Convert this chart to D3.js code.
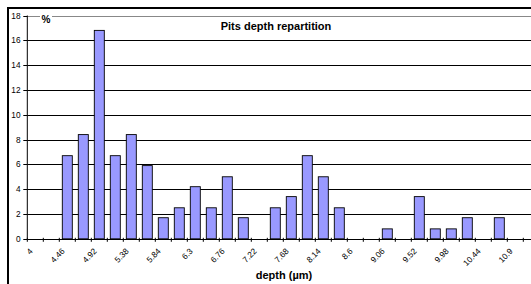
<!DOCTYPE html>
<html>
<head>
<meta charset="utf-8">
<script src="https://cdn.jsdelivr.net/npm/d3@7"></script>
<style>
  body { margin: 0; background: #fff; }
  svg { display: block; font-family: "Liberation Sans", Arial, sans-serif; }
</style>
</head>
<body>
<svg width="531" height="284"></svg>
<script>
let svg = d3.select("svg"),
    width = +svg.attr("width"),
    height = +svg.attr("height");

// depth classes (µm), one bar per class
let depths = [4, 4.23, 4.46, 4.69, 4.92, 5.15, 5.38, 5.61, 5.84, 6.07, 6.3, 6.53, 6.76, 6.99, 7.22, 7.45,
              7.68, 7.91, 8.14, 8.37, 8.6, 8.83, 9.06, 9.29, 9.52, 9.75, 9.98, 10.21, 10.44, 10.67, 10.9, 11.13];
// share of pits (%)
let percents = [0, 0, 6.7, 8.4, 16.8, 6.7, 8.4, 5.9, 1.7, 2.5, 4.2, 2.5, 5.0, 1.7, 0, 2.5,
                3.4, 6.7, 5.0, 2.5, 0, 0, 0.8, 0, 3.4, 0.8, 0.8, 1.7, 0, 1.7, 0, 0];
let yTicks = [0, 2, 4, 6, 8, 10, 12, 14, 16, 18];

let data = depths.map((d, i) => ({ depth: d, pct: percents[i] }));

let plotLeft = 27.3, plotTop = 15.5, plotBottom = 238.8, plotRight = 539.3;

let x = d3.scaleBand()
    .domain(depths)
    .range([plotLeft, plotRight])
    .paddingInner(0.375)
    .paddingOuter(0.1875);

let y = d3.scaleLinear()
    .domain([0, 18])
    .range([plotBottom, plotTop]);

// chart frame, cropped on the right and bottom: only top and left edges show
svg.append("line")
    .attr("x1", 8).attr("x2", 8)
    .attr("y1", 7).attr("y2", height)
    .attr("stroke", "#000")
    .attr("stroke-width", 2);
svg.append("line")
    .attr("x1", 7).attr("x2", width)
    .attr("y1", 8).attr("y2", 8)
    .attr("stroke", "#000")
    .attr("stroke-width", 2);

// gridlines
svg.append("g")
    .selectAll("line")
    .data(yTicks.filter(t => t > 0))
    .enter().append("line")
        .attr("x1", plotLeft).attr("x2", plotRight)
        .attr("y1", d => Math.round(y(d)) + 0.5)
        .attr("y2", d => Math.round(y(d)) + 0.5)
        .attr("stroke", d => d === 18 ? "#888" : "#000")
        .attr("stroke-width", 1);

// bars
svg.append("g")
    .selectAll("rect")
    .data(data.filter(d => d.pct > 0))
    .enter().append("rect")
        .attr("x", d => x(d.depth))
        .attr("y", d => y(d.pct))
        .attr("width", x.bandwidth())
        .attr("height", d => y(0) - y(d.pct))
        .attr("fill", "#9999ff")
        .attr("stroke", "#000")
        .attr("stroke-width", 0.9);

// y axis
let yAxis = svg.append("g");
yAxis.append("line")
    .attr("x1", plotLeft).attr("x2", plotLeft)
    .attr("y1", plotTop).attr("y2", plotBottom)
    .attr("stroke", "#000");
yAxis.selectAll(".tick")
    .data(yTicks)
    .enter().append("line")
        .attr("x1", plotLeft - 4).attr("x2", plotLeft)
        .attr("y1", d => Math.round(y(d)) + 0.5)
        .attr("y2", d => Math.round(y(d)) + 0.5)
        .attr("stroke", "#000");
yAxis.selectAll("text")
    .data(yTicks)
    .enter().append("text")
        .attr("x", 20.5)
        .attr("y", d => y(d) + 3)
        .attr("text-anchor", "end")
        .attr("font-size", 8.3)
        .text(d => d);

// x axis
let xAxis = svg.append("g");
xAxis.append("line")
    .attr("x1", plotLeft).attr("x2", plotRight)
    .attr("y1", Math.round(plotBottom) + 0.5).attr("y2", Math.round(plotBottom) + 0.5)
    .attr("stroke", "#000");
xAxis.selectAll("line.tick")
    .data(d3.range(depths.length + 1))
    .enter().append("line")
        .attr("class", "tick")
        .attr("x1", i => plotLeft + i * x.step())
        .attr("x2", i => plotLeft + i * x.step())
        .attr("y1", plotBottom - 1)
        .attr("y2", plotBottom + 3)
        .attr("stroke", "#000");
xAxis.selectAll("text")
    .data(depths.filter((d, i) => i % 2 === 0))
    .enter().append("text")
        .attr("transform", d => "translate(" + (x(d) + x.bandwidth() / 2 - 2) + "," + (plotBottom + 13) + ") rotate(-45)")
        .attr("text-anchor", "end")
        .attr("font-size", 8.3)
        .text(d => d);

// "%" unit label on a white patch
svg.append("rect")
    .attr("x", 40).attr("y", 11)
    .attr("width", 12).attr("height", 12)
    .attr("fill", "#fff");
svg.append("text")
    .attr("x", 46).attr("y", 23)
    .attr("text-anchor", "middle")
    .attr("font-size", 10)
    .attr("font-weight", "bold")
    .text("%");

svg.append("text")
    .attr("x", 276).attr("y", 30)
    .attr("text-anchor", "middle")
    .attr("font-size", 11)
    .attr("font-weight", "bold")
    .text("Pits depth repartition");

svg.append("text")
    .attr("x", 284).attr("y", 279)
    .attr("text-anchor", "middle")
    .attr("font-size", 11)
    .attr("font-weight", "bold")
    .text("depth (µm)");
</script>
</body>
</html>
